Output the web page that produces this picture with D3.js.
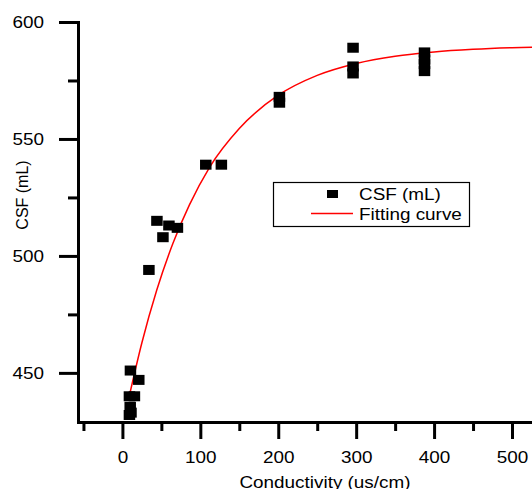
<!DOCTYPE html>
<html>
<head>
<meta charset="utf-8">
<script src="https://cdn.jsdelivr.net/npm/d3@7"></script>
<style>
  body { margin: 0; background: #fff; }
  svg text { font-family: Arial, "Liberation Sans", sans-serif; fill: #000; }
</style>
</head>
<body>
<div id="vis"></div>
<script>

var conductivity = [10.3, 21, 9, 15.4, 10, 9, 11, 34, 44.3, 52, 59.7, 70.6, 107, 127, 201.5, 201.5, 296, 296, 296, 387.7, 387.7, 387.7, 387.7];
var csf = [451, 447, 440, 440, 435.5, 432, 433, 494, 515, 508, 513, 512, 539, 539, 568, 565.5, 589, 581, 578, 587, 584, 582, 579];

// fitting curve, points
var fitX = [8, 25, 44, 65, 86, 112, 150, 200, 250, 300, 350, 400, 450, 500, 577];
var fitY = [438.9, 462.9, 485.3, 505.5, 521.8, 538, 554.5, 568.7, 577.2, 582.3, 585.4, 587.2, 588.3, 589, 589.5];

var xMajorTicks = [0, 100, 200, 300, 400, 500];
var xMinorTicks = [-50, 50, 150, 250, 350, 450, 550];
var yMajorTicks = [450, 500, 550, 600];
var yMinorTicks = [475, 525, 575];

var legendLabels = ['CSF (mL)', 'Fitting curve'];
var xTitle = 'Conductivity (us/cm)';
var yTitle = 'CSF (mL)';


var width = 532;
var height = 489;

// the original picture is a bit wider than tall, so the text is stretched
var stretch = 1.18;

var x = d3.scaleLinear().domain([-57, 577]).range([78, 572]);
var y = d3.scaleLinear().domain([429, 600]).range([422, 22]);

var svg = d3.select('#vis')
  .append('svg')
  .attr('width', width)
  .attr('height', height);


function stretchText(sel) {
  sel.each(function () {
    var w = this.getComputedTextLength();
    d3.select(this)
      .attr('textLength', w * stretch)
      .attr('lengthAdjust', 'spacingAndGlyphs');
  });
}


// minor ticks first, the major axis draws the line on top
svg.append('g')
  .attr('transform', 'translate(0,422)')
  .call(d3.axisBottom(x).tickValues(xMinorTicks).tickSize(9).tickSizeOuter(0).tickFormat(''))
  .call(function (g) { g.select('.domain').remove(); })
  .selectAll('line').attr('stroke-width', 3);

svg.append('g')
  .attr('transform', 'translate(78,0)')
  .call(d3.axisLeft(y).tickValues(yMinorTicks).tickSize(10).tickSizeOuter(0).tickFormat(''))
  .call(function (g) { g.select('.domain').remove(); })
  .selectAll('line').attr('stroke-width', 3);

var xAxis = svg.append('g')
  .attr('transform', 'translate(0,422)')
  .call(d3.axisBottom(x).tickValues(xMajorTicks).tickSize(17).tickSizeOuter(0).tickPadding(13));

var yAxis = svg.append('g')
  .attr('transform', 'translate(78,0)')
  .call(d3.axisLeft(y).tickValues(yMajorTicks).tickSize(19).tickSizeOuter(0).tickPadding(15));

[xAxis, yAxis].forEach(function (g) {
  g.attr('font-family', null).attr('font-size', null);
  g.select('.domain').attr('stroke-width', 3).attr('stroke-linecap', 'square');
  g.selectAll('.tick line').attr('stroke-width', 3);
  g.selectAll('.tick text').style('font-size', '16px').call(stretchText);
});


// fitting curve
var line = d3.line()
  .x(function (d, i) { return x(fitX[i]); })
  .y(function (d) { return y(d); })
  .curve(d3.curveMonotoneX);

svg.append('path')
  .datum(fitY)
  .attr('d', line)
  .attr('fill', 'none')
  .attr('stroke', '#ff0000')
  .attr('stroke-width', 1.5);


// data squares
svg.selectAll('.pt')
  .data(csf)
  .enter().append('rect')
  .attr('class', 'pt')
  .attr('x', function (d, i) { return x(conductivity[i]) - 5.75; })
  .attr('y', function (d) { return y(d) - 5; })
  .attr('width', 11.5)
  .attr('height', 10)
  .attr('fill', '#000');


// legend
var legend = svg.append('g');

legend.append('rect')
  .attr('x', 273.5)
  .attr('y', 182.5)
  .attr('width', 196)
  .attr('height', 44)
  .attr('fill', '#fff')
  .attr('stroke', '#000')
  .attr('stroke-width', 1.2);

legend.append('rect')
  .attr('x', 327)
  .attr('y', 190)
  .attr('width', 11)
  .attr('height', 8)
  .attr('fill', '#000');

legend.append('line')
  .attr('x1', 311).attr('x2', 353)
  .attr('y1', 213.5).attr('y2', 213.5)
  .attr('stroke', '#ff0000')
  .attr('stroke-width', 1.5);

legend.selectAll('.leg')
  .data(legendLabels)
  .enter().append('text')
  .attr('class', 'leg')
  .attr('x', 359)
  .attr('y', function (d, i) { return 199.5 + i * 20; })
  .style('font-size', '16px')
  .text(function (d) { return d; })
  .call(stretchText);


// axis titles
svg.append('text')
  .attr('x', 325)
  .attr('y', 487.5)
  .attr('text-anchor', 'middle')
  .style('font-size', '16px')
  .text(xTitle)
  .call(stretchText);

svg.append('text')
  .attr('transform', 'translate(28,195) rotate(-90)')
  .attr('text-anchor', 'middle')
  .style('font-size', '16px')
  .text(yTitle);

</script>
</body>
</html>
